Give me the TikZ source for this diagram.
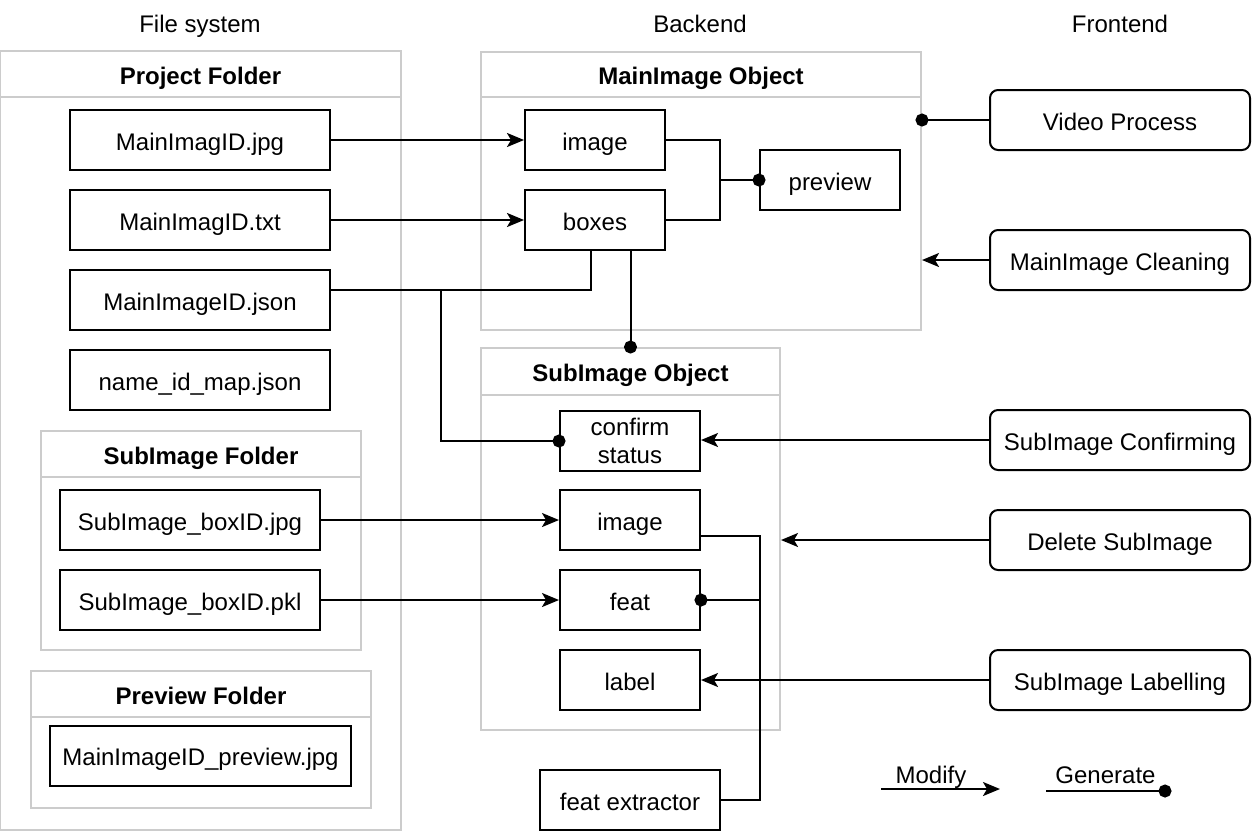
\documentclass[tikz,border=0pt]{standalone}
\usepackage{fontspec}
\setmainfont{Liberation Sans}
\usepackage{tikz}
\usetikzlibrary{arrows.meta}

\begin{document}
\begin{tikzpicture}[x=0.5pt,y=-0.5pt,node distance={40pt},line width=1pt,font=\fontsize{12}{14}\selectfont,text height=10pt,text depth=0pt]
  \tikzstyle{group}=[draw=black!20, inner sep=0pt]
  \tikzstyle{head}=[group, font=\fontsize{12}{14}\selectfont\bfseries, minimum height=23pt, anchor=north]
  \tikzstyle{file}=[draw, minimum width=130pt, minimum height=30pt, inner sep=0pt, align=center]
  \tikzstyle{field}=[file, minimum width=70pt]
  \tikzstyle{app}=[file, rounded corners=4pt]
  \tikzstyle{modify}=[-{Stealth[length=8.5pt,width=7pt,inset=2pt]}]
  \tikzstyle{generate}=[-{Circle[length=6.5pt]}, shorten >=-3.25pt]
  \useasboundingbox (0,0) rectangle (1252,832);

  % column titles
  \node (fs) at (200,22) {File system};
  \node (be) at (700,22) {Backend};
  \node (fe) at (1120,22) {Frontend};

  % file system
  \node[group, minimum width=200.5pt, minimum height=389.5pt] (proj) at (200.5,440.5) {};
  \node[head, minimum width=200.5pt] (projhead) at (proj.north) {Project Folder};
  \node[file] (jpg) at (200,140) {MainImagID.jpg};
  \node[file] (txt) [below of=jpg] {MainImagID.txt};
  \node[file] (json) [below of=txt] {MainImageID.json};
  \node[file] (map) [below of=json] {name\_id\_map.json};

  \node[group, minimum width=160pt, minimum height=109.5pt] (subfold) at (201,540.5) {};
  \node[head, minimum width=160pt] (subhead) at (subfold.north) {SubImage Folder};
  \node[file] (subjpg) at (190,520) {SubImage\_boxID.jpg};
  \node[file] (subpkl) [below of=subjpg] {SubImage\_boxID.pkl};

  \node[group, minimum width=170pt, minimum height=68.5pt] (prevfold) at (201,739.5) {};
  \node[head, minimum width=170pt] (prevhead) at (prevfold.north) {Preview Folder};
  \node[file, minimum width=150.5pt] (prevjpg) at (200.5,755.5) {MainImageID\_preview.jpg};

  % backend
  \node[group, minimum width=220pt, minimum height=139pt] (mainobj) at (701,191) {};
  \node[head, minimum width=220pt, minimum height=22.5pt] (mainhead) at (mainobj.north) {MainImage Object};
  \node[field] (mimg) at (595,140) {image};
  \node[field] (boxes) [below of=mimg] {boxes};
  \node[field] (preview) at (830,180) {preview};

  \node[group, minimum width=149.5pt, minimum height=191pt] (subobj) at (630.5,539) {};
  \node[head, minimum width=149.5pt, minimum height=23.5pt] (subobjhead) at (subobj.north) {SubImage Object};
  \node[field, text height=, text depth=] (confirm) at (630,441) {confirm\\status};
  \node[field] (simg) at (630,520) {image};
  \node[field] (feat) [below of=simg] {feat};
  \node[field] (label) [below of=feat] {label};
  \node[field, minimum width=90pt] (extractor) at (630,800) {feat extractor};

  % frontend
  \node[app] (video) at (1120,120) {Video Process};
  \node[app] (clean) at (1120,260) {MainImage Cleaning};
  \node[app] (sconfirm) at (1120,440) {SubImage Confirming};
  \node[app] (delete) at (1120,540) {Delete SubImage};
  \node[app] (labelling) at (1120,680) {SubImage Labelling};

  % joints
  \coordinate (j1) at (720,180);
  \coordinate (j2) at (441,290);
  \coordinate (j3) at (760,536);
  \coordinate (j4) at (760,600);

  \draw[modify] (jpg) -- (mimg);
  \draw[modify] (txt) -- (boxes);
  \draw (mimg.east) -| (j1);
  \draw (boxes.east) -| (j1);
  \draw[generate] (j1) -- (preview.west);
  \draw ([yshift=5pt]json.east) -| ([xshift=-2pt]boxes.south);
  \draw[generate] (j2) |- (confirm.west);
  \draw[generate] (subobj.north |- boxes.south) -- (subobj.north);

  \draw[modify] (subjpg) -- (simg);
  \draw[modify] (subpkl) -- (feat);
  \draw (extractor.east) -| (j3) -- ([yshift=-8pt]simg.east);
  \draw[generate] (j4) -- (feat.east);

  \draw[generate] (video.west) -- (video.west -| mainobj.east);
  \draw[modify] (clean.west) -- (clean.west -| mainobj.east);
  \draw[modify] (sconfirm.west) -- (sconfirm.west -| confirm.east);
  \draw[modify] (delete.west) -- (delete.west -| subobj.east);
  \draw[modify] (labelling.west) -- (label.east);

  % legend
  \coordinate (m1) at (881,789);
  \coordinate (m2) at (1000,789);
  \coordinate (g1) at (1046,791);
  \coordinate (g2) at (1165,791);
  \draw[modify] (m1) -- node[pos=0.42, yshift=8pt] (modlabel) {Modify} (m2);
  \draw[generate] (g1) -- node[pos=0.5, yshift=9pt] (genlabel) {Generate} (g2);
\end{tikzpicture}
\end{document}
